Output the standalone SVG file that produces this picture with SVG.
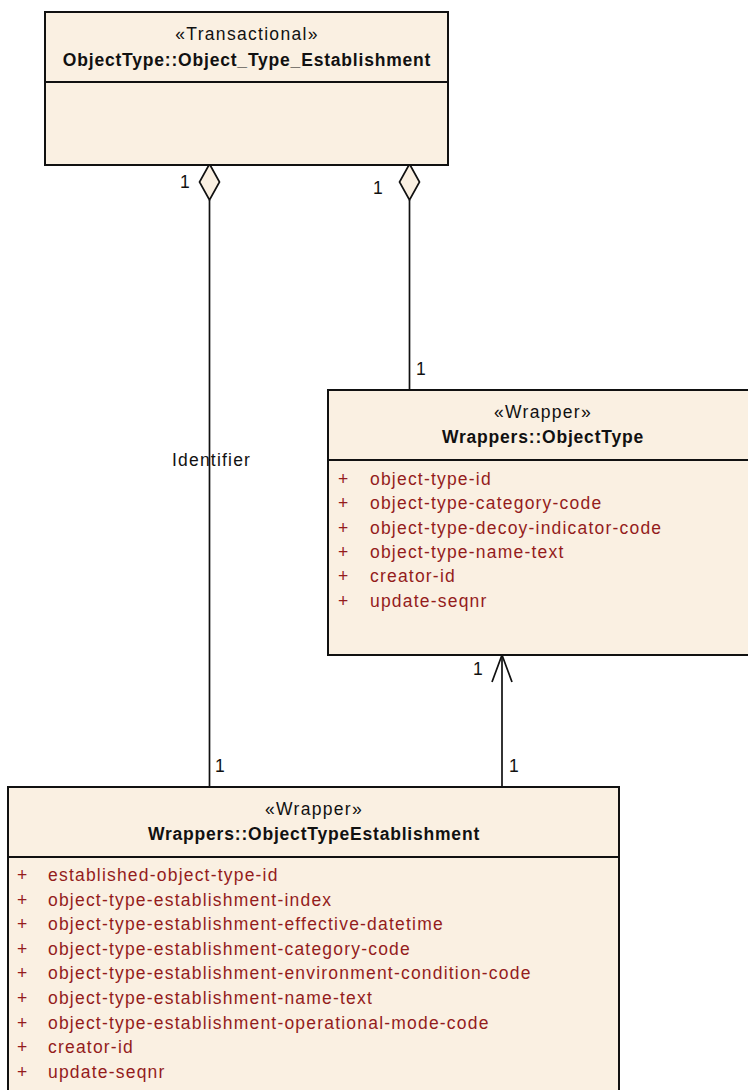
<svg xmlns="http://www.w3.org/2000/svg" width="748" height="1090" viewBox="0 0 748 1090">
<style>
  .box { fill: #FAF0E2; stroke: #111; stroke-width: 2; }
  .div { stroke: #111; stroke-width: 2; }
  .ln { stroke: #111; stroke-width: 1.7; fill: none; }
  .dia { fill: #FAF0E2; stroke: #111; stroke-width: 1.7; }
  text { font-family: "Liberation Sans", Arial, sans-serif; font-size: 17.5px; }
  .st { text-anchor: middle; letter-spacing: 1.3px; fill: #111; }
  .nm { text-anchor: middle; font-weight: bold; letter-spacing: 0.8px; fill: #111; }
  .at { fill: #941C1C; letter-spacing: 1.2px; }
  .lb { fill: #111; letter-spacing: 1.2px; }
</style>
<rect width="748" height="1090" fill="#fff"/>

<g id="connectors">
  <line class="ln" x1="209.5" y1="200" x2="209.5" y2="787"/>
  <line class="ln" x1="409.5" y1="200" x2="409.5" y2="390"/>
  <line class="ln" x1="502" y1="655" x2="502" y2="787"/>
  <polyline class="ln" points="492,682 502,655 512,682"/>
  <polygon class="dia" points="209.5,164 219.5,182 209.5,200 199.5,182"/>
  <polygon class="dia" points="409.5,164 419.5,182 409.5,200 399.5,182"/>
  <text class="lb" x="180" y="188">1</text>
  <text class="lb" x="373" y="194">1</text>
  <text class="lb" x="416" y="375">1</text>
  <text class="lb" x="172" y="466">Identifier</text>
  <text class="lb" x="473" y="675">1</text>
  <text class="lb" x="215" y="772">1</text>
  <text class="lb" x="509" y="772">1</text>
</g>

<g id="node-object-type-establishment">
  <rect class="box" x="45" y="12" width="403" height="153"/>
  <line class="div" x1="45" y1="82" x2="448" y2="82"/>
  <text class="st" x="247" y="40">«Transactional»</text>
  <text class="nm" x="247" y="66">ObjectType::Object_Type_Establishment</text>
</g>

<g id="node-wrappers-objecttype">
  <rect class="box" x="328" y="390" width="432" height="265"/>
  <line class="div" x1="328" y1="460" x2="760" y2="460"/>
  <text class="st" x="543" y="418">«Wrapper»</text>
  <text class="nm" x="543" y="443">Wrappers::ObjectType</text>
  <g class="at">
    <text x="338" y="485">+</text><text x="370" y="485">object-type-id</text>
    <text x="338" y="509.3">+</text><text x="370" y="509.3">object-type-category-code</text>
    <text x="338" y="533.7">+</text><text x="370" y="533.7">object-type-decoy-indicator-code</text>
    <text x="338" y="558">+</text><text x="370" y="558">object-type-name-text</text>
    <text x="338" y="582.4">+</text><text x="370" y="582.4">creator-id</text>
    <text x="338" y="606.7">+</text><text x="370" y="606.7">update-seqnr</text>
  </g>
</g>

<g id="node-wrappers-objecttypeestablishment">
  <rect class="box" x="8" y="787" width="611" height="320"/>
  <line class="div" x1="8" y1="857" x2="619" y2="857"/>
  <text class="st" x="314" y="815">«Wrapper»</text>
  <text class="nm" x="314" y="840">Wrappers::ObjectTypeEstablishment</text>
  <g class="at">
    <text x="17" y="881">+</text><text x="48" y="881">established-object-type-id</text>
    <text x="17" y="905.6">+</text><text x="48" y="905.6">object-type-establishment-index</text>
    <text x="17" y="930.2">+</text><text x="48" y="930.2">object-type-establishment-effective-datetime</text>
    <text x="17" y="954.8">+</text><text x="48" y="954.8">object-type-establishment-category-code</text>
    <text x="17" y="979.4">+</text><text x="48" y="979.4">object-type-establishment-environment-condition-code</text>
    <text x="17" y="1004">+</text><text x="48" y="1004">object-type-establishment-name-text</text>
    <text x="17" y="1028.6">+</text><text x="48" y="1028.6">object-type-establishment-operational-mode-code</text>
    <text x="17" y="1053.2">+</text><text x="48" y="1053.2">creator-id</text>
    <text x="17" y="1077.8">+</text><text x="48" y="1077.8">update-seqnr</text>
  </g>
</g>
</svg>
